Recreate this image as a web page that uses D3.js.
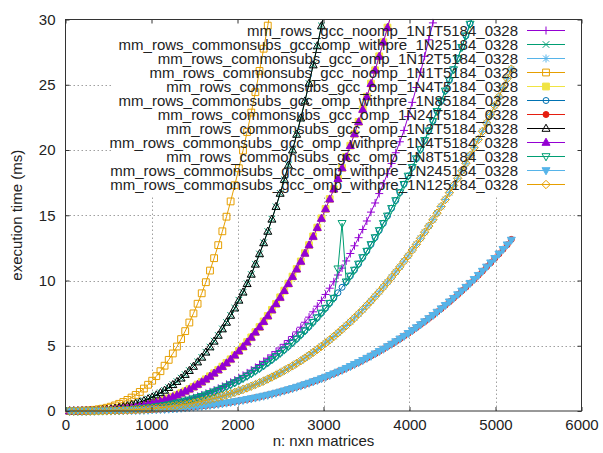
<!DOCTYPE html>
<html>
<head>
<meta charset="utf-8">
<script src="https://cdn.jsdelivr.net/npm/d3@7"></script>
<style>
body { margin: 0; background: #fff; }
text { font-family: "Liberation Sans", Arial, sans-serif; }
</style>
</head>
<body>
<div class="chart"></div>
<script>
// matrix sizes n (every 48 up to 5184)
var sizes = [48, 96, 144, 192, 240, 288, 336, 384, 432, 480,
    528, 576, 624, 672, 720, 768, 816, 864, 912, 960,
    1008, 1056, 1104, 1152, 1200, 1248, 1296, 1344, 1392, 1440,
    1488, 1536, 1584, 1632, 1680, 1728, 1776, 1824, 1872, 1920,
    1968, 2016, 2064, 2112, 2160, 2208, 2256, 2304, 2352, 2400,
    2448, 2496, 2544, 2592, 2640, 2688, 2736, 2784, 2832, 2880,
    2928, 2976, 3024, 3072, 3120, 3168, 3216, 3264, 3312, 3360,
    3408, 3456, 3504, 3552, 3600, 3648, 3696, 3744, 3792, 3840,
    3888, 3936, 3984, 4032, 4080, 4128, 4176, 4224, 4272, 4320,
    4368, 4416, 4464, 4512, 4560, 4608, 4656, 4704, 4752, 4800,
    4848, 4896, 4944, 4992, 5040, 5088, 5136, 5184];

var xTicks = [0, 1000, 2000, 3000, 4000, 5000, 6000];
var yTicks = [0, 5, 10, 15, 20, 25, 30];

var names = [
    'mm_rows_gcc_noomp_1N1T5184_0328',
    'mm_rows_commonsubs_gcc_omp_withpre_1N25184_0328',
    'mm_rows_commonsubs_gcc_omp_1N12T5184_0328',
    'mm_rows_commonsubs_gcc_noomp_1N1T5184_0328',
    'mm_rows_commonsubs_gcc_omp_1N4T5184_0328',
    'mm_rows_commonsubs_gcc_omp_withpre_1N85184_0328',
    'mm_rows_commonsubs_gcc_omp_1N24T5184_0328',
    'mm_rows_commonsubs_gcc_omp_1N2T5184_0328',
    'mm_rows_commonsubs_gcc_omp_withpre_1N4T5184_0328',
    'mm_rows_commonsubs_gcc_omp_1N8T5184_0328',
    'mm_rows_commonsubs_gcc_omp_withpre_1N245184_0328',
    'mm_rows_commonsubs_gcc_omp_withpre_1N125184_0328'
];

// execution time (ms), one array per run
var noomp1T = [0.00,0.00,0.00,0.00,0.00,0.01,0.01,0.02,0.03,0.03,
    0.05,0.06,0.08,0.09,0.12,0.14,0.17,0.20,0.24,0.27,
    0.32,0.37,0.42,0.47,0.54,0.60,0.68,0.75,0.84,0.93,
    1.02,1.12,1.23,1.35,1.47,1.60,1.74,1.88,2.04,2.20,
    2.37,2.54,2.73,2.92,3.13,3.34,3.56,3.80,4.04,4.29,
    4.55,4.83,5.11,5.40,5.71,6.06,6.42,6.80,7.19,7.60,
    8.03,8.47,8.93,9.41,9.90,10.42,10.95,11.50,12.07,12.66,
    13.28,13.91,14.56,15.24,15.94,16.66,17.41,18.18,18.97,19.79,
    20.63,21.50,22.56,23.65,24.79,25.96,27.18,28.44,29.74,31.08];

var withpre2 = [0.00,0.00,0.00,0.01,0.01,0.02,0.04,0.06,0.08,0.11,
    0.15,0.20,0.25,0.32,0.39,0.47,0.57,0.67,0.79,0.92,
    1.06,1.22,1.40,1.58,1.79,2.02,2.25,2.52,2.79,3.10,
    3.41,3.76,4.11,4.51,4.90,5.35,5.79,6.29,6.78,7.33,
    7.88,8.49,9.09,9.76,10.46,11.25,12.03,12.89,13.75,14.70,
    15.65,16.68,17.72,18.84,19.98,21.20,22.43,23.75,25.09,26.52,
    27.96,29.51,30.94];

var omp12T = [0.00,0.00,0.00,0.00,0.00,0.00,0.01,0.01,0.02,0.02,
    0.03,0.04,0.05,0.06,0.07,0.09,0.10,0.12,0.14,0.17,
    0.19,0.22,0.25,0.29,0.33,0.37,0.41,0.46,0.51,0.56,
    0.62,0.69,0.75,0.82,0.89,0.97,1.06,1.14,1.23,1.33,
    1.43,1.54,1.66,1.77,1.90,2.03,2.16,2.30,2.45,2.61,
    2.76,2.93,3.10,3.28,3.46,3.66,3.85,4.06,4.27,4.50,
    4.72,4.96,5.21,5.45,5.71,5.99,6.26,6.55,6.83,7.14,
    7.44,7.77,8.09,8.44,8.78,9.14,9.50,9.88,10.26,10.66,
    11.05,11.48,11.89,12.34,12.77,13.24,13.70,14.18,14.66,15.17,
    15.67,16.21,16.73,17.29,17.83,18.41,18.98,19.59,20.18,20.81,
    21.43,22.08,22.73,23.41,24.08,24.78,25.48,26.21];

var csNoomp1T = [0.00,0.00,0.01,0.02,0.03,0.05,0.09,0.13,0.18,0.25,
    0.33,0.43,0.55,0.69,0.85,1.03,1.23,1.46,1.72,2.01,
    2.32,2.67,3.05,3.47,3.92,4.41,4.94,5.51,6.12,6.78,
    7.48,8.22,9.02,9.87,10.76,11.71,12.71,13.77,14.89,16.06,
    17.30,18.60,19.96,21.38,22.87,24.43,26.06,27.76,29.53,31.38];

var omp4T = [0.00,0.00,0.00,0.00,0.01,0.01,0.02,0.03,0.05,0.06,
    0.08,0.11,0.14,0.17,0.21,0.25,0.30,0.36,0.43,0.50,
    0.57,0.66,0.76,0.86,0.97,1.09,1.22,1.36,1.51,1.67,
    1.85,2.03,2.23,2.43,2.66,2.89,3.14,3.40,3.68,3.96,
    4.27,4.60,4.92,5.28,5.64,6.04,6.43,6.86,7.28,7.75,
    8.21,8.71,9.22,9.76,10.30,10.88,11.46,12.09,12.71,13.38,
    14.05,14.76,15.48,16.24,17.00,17.81,18.62,19.47,20.33,21.24,
    22.15,23.11,24.08,25.09,26.11,27.18,28.26,29.38,30.52];

var withpre8 = [0.00,0.00,0.00,0.00,0.00,0.01,0.01,0.02,0.02,0.03,
    0.04,0.05,0.07,0.09,0.11,0.13,0.16,0.18,0.22,0.25,
    0.29,0.34,0.38,0.44,0.49,0.56,0.62,0.69,0.77,0.85,
    0.94,1.03,1.13,1.24,1.35,1.47,1.60,1.73,1.87,2.02,
    2.17,2.33,2.51,2.68,2.87,3.07,3.27,3.49,3.71,3.94,
    4.18,4.43,4.69,4.96,5.24,5.53,5.84,6.15,6.47,6.81,
    7.15,7.51,7.88,8.26,8.66,9.06,9.48,9.90,10.35,10.81,
    11.27,11.76,12.26,12.76,13.29,13.84,14.38,14.95,15.54,16.13,
    16.74,17.38,18.01,18.68,19.34,20.05,20.74,21.48,22.21,22.97,
    23.74,24.54,25.34,26.17,27.01,27.88,28.75,29.66,30.56];

var omp24T = [0.00,0.00,0.00,0.00,0.00,0.00,0.00,0.01,0.01,0.01,
    0.01,0.02,0.02,0.03,0.04,0.04,0.05,0.06,0.07,0.08,
    0.10,0.11,0.13,0.14,0.16,0.18,0.21,0.23,0.25,0.28,
    0.31,0.34,0.38,0.41,0.45,0.49,0.53,0.58,0.62,0.67,
    0.72,0.78,0.83,0.89,0.95,1.02,1.08,1.15,1.23,1.30,
    1.38,1.47,1.55,1.64,1.74,1.83,1.93,2.04,2.14,2.26,
    2.36,2.49,2.60,2.74,2.86,3.00,3.13,3.28,3.42,3.58,
    3.72,3.89,4.05,4.22,4.39,4.58,4.75,4.95,5.13,5.33,
    5.53,5.74,5.95,6.17,6.39,6.63,6.85,7.10,7.33,7.59,
    7.84,8.11,8.37,8.65,8.92,9.21,9.49,9.80,10.09,10.41,
    10.72,11.05,11.36,11.71,12.04,12.40,12.74,13.15];

var omp2T = [0.00,0.00,0.00,0.01,0.01,0.02,0.04,0.06,0.08,0.11,
    0.15,0.20,0.25,0.31,0.39,0.47,0.56,0.67,0.78,0.92,
    1.06,1.22,1.39,1.58,1.79,2.01,2.25,2.51,2.79,3.09,
    3.41,3.75,4.11,4.50,4.90,5.34,5.79,6.28,6.79,7.32,
    7.88,8.48,9.10,9.75,10.47,11.24,12.04,12.88,13.76,14.69,
    15.66,16.67,17.73,18.83,19.99,21.19,22.44,23.74,25.10,26.51,
    27.97,29.50,30.95];

var withpre4 = [0.00,0.00,0.00,0.00,0.01,0.01,0.02,0.03,0.05,0.06,
    0.08,0.11,0.14,0.17,0.21,0.25,0.30,0.36,0.42,0.50,
    0.57,0.66,0.75,0.86,0.97,1.09,1.22,1.36,1.51,1.67,
    1.84,2.03,2.22,2.43,2.65,2.89,3.14,3.40,3.67,3.96,
    4.27,4.59,4.92,5.27,5.64,6.03,6.43,6.85,7.28,7.74,
    8.21,8.70,9.22,9.75,10.30,10.87,11.46,12.08,12.71,13.37,
    14.05,14.75,15.48,16.23,17.00,17.80,18.62,19.46,20.33,21.23,
    22.15,23.10,24.08,25.08,26.11,27.17,28.26,29.37,30.52];

var omp8T = [0.00,0.00,0.00,0.00,0.00,0.01,0.01,0.02,0.02,0.03,
    0.04,0.05,0.07,0.09,0.11,0.13,0.15,0.18,0.22,0.25,
    0.29,0.34,0.38,0.44,0.49,0.55,0.62,0.69,0.77,0.85,
    0.94,1.03,1.13,1.24,1.35,1.47,1.60,1.73,1.87,2.02,
    2.17,2.33,2.50,2.68,2.87,3.07,3.27,3.48,3.71,3.94,
    4.18,4.43,4.69,4.96,5.24,5.53,5.83,6.15,6.47,6.80,
    7.15,7.51,7.88,8.26,8.65,10.90,14.38,9.90,10.35,10.80,
    11.27,11.76,12.25,12.76,13.29,13.83,14.38,14.95,15.53,16.13,
    16.74,17.37,18.01,18.67,19.34,20.04,20.74,21.47,22.21,22.96,
    23.74,24.53,25.34,26.16,27.01,27.87,28.75,29.65,30.56];

var withpre24 = [0.00,0.00,0.00,0.00,0.00,0.00,0.00,0.01,0.01,0.01,
    0.01,0.02,0.02,0.03,0.04,0.04,0.05,0.06,0.07,0.08,
    0.10,0.11,0.13,0.14,0.16,0.18,0.20,0.23,0.25,0.28,
    0.31,0.34,0.37,0.41,0.45,0.49,0.53,0.57,0.62,0.67,
    0.72,0.77,0.83,0.89,0.95,1.01,1.08,1.15,1.22,1.30,
    1.38,1.46,1.55,1.64,1.73,1.83,1.93,2.03,2.14,2.25,
    2.36,2.48,2.60,2.73,2.86,2.99,3.13,3.27,3.42,3.57,
    3.72,3.88,4.05,4.21,4.39,4.57,4.75,4.94,5.13,5.32,
    5.53,5.73,5.95,6.16,6.39,6.62,6.85,7.09,7.33,7.58,
    7.84,8.10,8.37,8.64,8.92,9.20,9.49,9.79,10.09,10.40,
    10.72,11.04,11.36,11.70,12.04,12.39,12.74,13.10];

var withpre12 = [0.00,0.00,0.00,0.00,0.00,0.00,0.01,0.01,0.02,0.02,
    0.03,0.04,0.05,0.06,0.07,0.09,0.10,0.12,0.14,0.17,
    0.19,0.22,0.25,0.29,0.33,0.37,0.41,0.46,0.51,0.56,
    0.62,0.68,0.75,0.82,0.89,0.97,1.05,1.14,1.23,1.33,
    1.43,1.54,1.65,1.77,1.90,2.02,2.16,2.30,2.45,2.60,
    2.76,2.92,3.10,3.28,3.46,3.65,3.85,4.06,4.27,4.49,
    4.72,4.96,5.20,5.45,5.71,5.98,6.26,6.54,6.83,7.13,
    7.44,7.76,8.09,8.43,8.78,9.13,9.50,9.87,10.26,10.65,
    11.05,11.47,11.89,12.33,12.77,13.23,13.70,14.17,14.66,15.16,
    15.67,16.20,16.73,17.28,17.83,18.40,18.98,19.58,20.18,20.80,
    21.43,22.07,22.73,23.40,24.08,24.77,25.48,26.20];

var runs = [noomp1T, withpre2, omp12T, csNoomp1T, omp4T, withpre8,
    omp24T, omp2T, withpre4, omp8T, withpre24, withpre12];

// gnuplot default line colours and point types
var colors = ['#9400d3', '#009e73', '#56b4e9', '#e69f00', '#f0e442', '#0072b2',
    '#e51e10', '#000000', '#9400d3', '#009e73', '#56b4e9', '#e69f00'];
var pointTypes = [1, 2, 3, 4, 5, 6, 7, 8, 9, 10, 11, 12];

var svgWidth = 603;
var svgHeight = 453;
var plotLeft = 65.5, plotRight = 581.5, plotTop = 19.5, plotBottom = 411;

var x = d3.scaleLinear().domain([0, 6000]).range([plotLeft, plotRight]);
var y = d3.scaleLinear().domain([0, 30]).range([plotBottom, plotTop]);

function markerPath(pt) {
    switch (pt) {
        case 1: return 'M-4,0H4M0,-4V4';
        case 2: return 'M-3.3,-3.3L3.3,3.3M-3.3,3.3L3.3,-3.3';
        case 3: return 'M-4,0H4M0,-4V4M-3,-3L3,3M-3,3L3,-3';
        case 4: case 5: return 'M-3.4,-3.4H3.4V3.4H-3.4Z';
        case 6: case 7: return 'M-3,0A3,3 0 1,0 3,0A3,3 0 1,0 -3,0Z';
        case 8: case 9: return 'M0,-4.3L4,2.8H-4Z';
        case 10: case 11: return 'M0,4.3L4,-2.8H-4Z';
        case 12: return 'M0,-4.2L4.2,0L0,4.2L-4.2,0Z';
    }
    return '';
}
function isFilled(pt) {
    return pt === 5 || pt === 7 || pt === 9 || pt === 11;
}

var svg = d3.select('.chart').append('svg')
    .attr('width', svgWidth)
    .attr('height', svgHeight)
    .style('display', 'block');

svg.append('defs').append('clipPath').attr('id', 'plotclip')
    .append('rect')
    .attr('x', plotLeft).attr('y', plotTop)
    .attr('width', plotRight - plotLeft).attr('height', plotBottom - plotTop);

// grid
var grid = svg.append('g')
    .attr('stroke', '#a0a0a0')
    .attr('stroke-width', 1)
    .attr('stroke-dasharray', '1.5,2.5');
grid.selectAll('.gx')
    .data(xTicks.slice(1, -1))
    .enter()
    .append('line')
    .attr('x1', function(d) { return Math.round(x(d)) + 0.5; })
    .attr('x2', function(d) { return Math.round(x(d)) + 0.5; })
    .attr('y1', plotBottom)
    .attr('y2', plotTop);
grid.selectAll('.gy')
    .data(yTicks.slice(1, -1))
    .enter()
    .append('line')
    .attr('y1', function(d) { return Math.round(y(d)) + 0.5; })
    .attr('y2', function(d) { return Math.round(y(d)) + 0.5; })
    .attr('x1', plotLeft)
    .attr('x2', plotRight);

// key area hides the grid
svg.append('rect')
    .attr('x', 112)
    .attr('y', plotTop + 0.5)
    .attr('width', plotRight - 112 - 0.5)
    .attr('height', 196 - plotTop)
    .attr('fill', '#fff');

var line = d3.line()
    .x(function(d, i) { return x(sizes[i]); })
    .y(function(d) { return y(d); });

runs.forEach(function(run, s) {
    var g = svg.append('g');
    g.append('path')
        .attr('d', line(run))
        .attr('clip-path', 'url(#plotclip)')
        .attr('fill', 'none')
        .attr('stroke', colors[s])
        .attr('stroke-width', 1);
    var pts = run.map(function(d, i) { return [sizes[i], d]; })
        .filter(function(p) { return p[1] <= 30; });
    g.selectAll('path.pt')
        .data(pts)
        .enter()
        .append('path')
        .attr('class', 'pt')
        .attr('transform', function(p) { return 'translate(' + x(p[0]) + ',' + y(p[1]) + ')'; })
        .attr('d', markerPath(pointTypes[s]))
        .attr('fill', isFilled(pointTypes[s]) ? colors[s] : 'none')
        .attr('stroke', colors[s])
        .attr('stroke-width', 1);
});

// axes
var axisColor = '#333';
var xAxis = svg.append('g')
    .attr('transform', 'translate(0,' + plotBottom + ')')
    .call(d3.axisBottom(x).tickValues(xTicks).tickFormat(d3.format('d')).tickSize(-4).tickPadding(8));
var yAxis = svg.append('g')
    .attr('transform', 'translate(' + plotLeft + ',0)')
    .call(d3.axisLeft(y).tickValues(yTicks).tickFormat(d3.format('d')).tickSize(-4).tickPadding(10));
var xTop = svg.append('g')
    .attr('transform', 'translate(0,' + plotTop + ')')
    .call(d3.axisTop(x).tickValues(xTicks).tickSize(-4).tickFormat(''));
var yRight = svg.append('g')
    .attr('transform', 'translate(' + plotRight + ',0)')
    .call(d3.axisRight(y).tickValues(yTicks).tickSize(-4).tickFormat(''));

[xAxis, yAxis, xTop, yRight].forEach(function(a) {
    a.select('.domain').remove();
    a.attr('color', axisColor)
        .attr('font-size', 15)
        .attr('font-family', '"Liberation Sans", Arial, sans-serif');
    a.selectAll('text').attr('fill', '#222');
});

svg.append('rect')
    .attr('x', plotLeft)
    .attr('y', plotTop)
    .attr('width', plotRight - plotLeft)
    .attr('height', plotBottom - plotTop)
    .attr('fill', 'none')
    .attr('stroke', axisColor)
    .attr('stroke-width', 1);

// axis titles
svg.append('text')
    .text('n: nxn matrices')
    .attr('x', (plotLeft + plotRight) / 2)
    .attr('y', 446)
    .attr('text-anchor', 'middle')
    .attr('font-size', '15px')
    .attr('fill', '#222');
svg.append('text')
    .text('execution time (ms)')
    .attr('transform', 'translate(22,' + ((plotTop + plotBottom) / 2) + ') rotate(-90)')
    .attr('text-anchor', 'middle')
    .attr('font-size', '15px')
    .attr('fill', '#222');

// key
var key = svg.append('g');
var keyRows = key.selectAll('g')
    .data(names)
    .enter()
    .append('g')
    .attr('transform', function(d, i) { return 'translate(0,' + (30.5 + i * 14) + ')'; });
keyRows.append('text')
    .text(function(d) { return d; })
    .attr('x', 518)
    .attr('dy', '0.35em')
    .attr('text-anchor', 'end')
    .attr('font-size', '15px')
    .attr('fill', '#222');
keyRows.append('line')
    .attr('x1', 527)
    .attr('x2', 565)
    .attr('stroke', function(d, i) { return colors[i]; })
    .attr('stroke-width', 1);
keyRows.append('path')
    .attr('transform', 'translate(546,0)')
    .attr('d', function(d, i) { return markerPath(pointTypes[i]); })
    .attr('fill', function(d, i) { return isFilled(pointTypes[i]) ? colors[i] : 'none'; })
    .attr('stroke', function(d, i) { return colors[i]; })
    .attr('stroke-width', 1);
</script>
</body>
</html>
